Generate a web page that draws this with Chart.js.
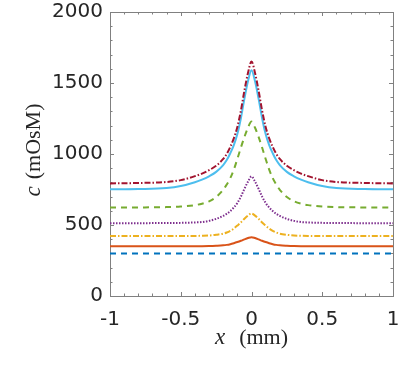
<!DOCTYPE html>
<html><head><meta charset="utf-8">
<script src="https://cdn.jsdelivr.net/npm/chart.js@4"></script>
<style>html,body{margin:0;padding:0;background:#fff}#wrap{width:407px;height:370px}</style>
</head><body><div id="wrap"><canvas id="c" width="407" height="370"></canvas></div>
<script>
const xs = [-1,-0.8,-0.6,-0.5,-0.4,-0.35,-0.3,-0.25,-0.2,-0.175,-0.15,-0.125,-0.1,-0.075,-0.05,-0.025,0,0.025,0.05,0.075,0.1,0.125,0.15,0.175,0.2,0.25,0.3,0.35,0.4,0.5,0.6,0.8,1];
const s1 = [300,300,300,300,300,300,300,300,300,300,300,300,300,300,300,300,300,300,300,300,300,300,300,300,300,300,300,300,300,300,300,300,300];
const s2 = [351,351,351,351,351,351,352,354,357,360,365,372,380,389,399,408,414,408,399,389,380,372,365,360,357,354,352,351,351,351,351,351,351];
const s3 = [422,422,422,422,423,424,426,431,439,447,459,475,496,518,544,566,582,566,544,518,496,475,459,447,439,431,426,424,423,422,422,422,422];
const s4 = [513,513,514,515,518,521,529,543,564,579,598,623,655,700,755,805,842,805,755,700,655,623,598,579,564,543,529,521,518,515,514,513,513];
const s5 = [624,624,626,630,640,650,667,697,748,785,830,890,965,1045,1120,1185,1228,1185,1120,1045,965,890,830,785,748,697,667,650,640,630,626,624,624];
const s6 = [751,753,760,774,801,819,843,874,922,957,1005,1062,1140,1252,1390,1512,1590,1512,1390,1252,1140,1062,1005,957,922,874,843,819,801,774,760,753,751];
const s7 = [793,796,803,816,844,862,886,917,965,1001,1050,1110,1190,1305,1447,1570,1652,1570,1447,1305,1190,1110,1050,1001,965,917,886,862,844,816,803,796,793];
const xTicks = [-1,-0.5,0,0.5,1];
const yTicks = [0,500,1000,1500,2000];

const series = [s1,s2,s3,s4,s5,s6,s7];
const colors = ['#0072BD','#D95319','#EDB120','#7E2F8E','#77AC30','#4DBEEE','#A2142F'];
const dashes = [[6,5],[],[6,2,1.5,2],[1.5,1.5],[6,5],[],[6,2,1.5,2]];

const datasets = series.map((s,i)=>({
  data: xs.map((x,j)=>({x:x,y:s[j]})),
  borderColor: colors[i], borderWidth: 2, borderDash: dashes[i],
  pointRadius: 0, fill:false, cubicInterpolationMode:'monotone',
  order: 7-i
}));

const boxPlugin = {
  id:'box',
  beforeDatasetsDraw(chart){
    const {ctx, chartArea:a, scales:{x,y}} = chart;
    ctx.save();
    ctx.strokeStyle='#808080'; ctx.lineWidth=1;
    ctx.beginPath();
    for(let k=-10; k<=10; k++){
      const v=k/10;
      const px=Math.round(x.getPixelForValue(v))+0.5;
      const L = (k%5===0)?4:2.5;
      ctx.moveTo(px,a.bottom); ctx.lineTo(px,a.bottom-L);
      ctx.moveTo(px,a.top); ctx.lineTo(px,a.top+L);
    }
    for(let v=0; v<=2000; v+=100){
      const py=Math.round(y.getPixelForValue(v))+0.5;
      const L = (v%500===0)?4:2.5;
      ctx.moveTo(a.left,py); ctx.lineTo(a.left+L,py);
      ctx.moveTo(a.right,py); ctx.lineTo(a.right-L,py);
    }
    ctx.stroke();
    ctx.strokeRect(Math.round(a.left)+0.5, Math.round(a.top)+0.5, Math.round(a.right-a.left), Math.round(a.bottom-a.top));
    ctx.restore();
  },
  afterDraw(chart){
    const {ctx, chartArea:a} = chart;
    ctx.save();
    ctx.fillStyle='#262626';
    ctx.textBaseline='alphabetic';
    ctx.textAlign='left';
    const f1='italic 23px "Liberation Serif"', f2='22px "Liberation Serif"';
    ctx.font=f1; const w1=ctx.measureText('x').width;
    ctx.font=f2; const w2=ctx.measureText('(mm)').width;
    const gap=14;
    let cx=(a.left+a.right)/2 - (w1+gap+w2)/2;
    ctx.font=f1; ctx.fillText('x',cx,344);
    ctx.font=f2; ctx.fillText('(mm)',cx+w1+gap,344);
    ctx.translate(40,150);
    ctx.rotate(-Math.PI/2);
    ctx.font=f1; const w3=ctx.measureText('c').width;
    ctx.font=f2; const w4=ctx.measureText('(mOsM)').width;
    const gap2=7;
    let cy=-(w3+gap2+w4)/2;
    ctx.font=f1; ctx.fillText('c',cy,0);
    ctx.font=f2; ctx.fillText('(mOsM)',cy+w3+gap2,0);
    ctx.restore();
  }
};

new Chart(document.getElementById('c'),{
  type:'line',
  data:{datasets},
  options:{
    responsive:false, animation:false, devicePixelRatio:1,
    layout:{padding:{top:12,right:14,left:0,bottom:0}},
    plugins:{legend:{display:false},tooltip:{enabled:false}},
    scales:{
      x:{type:'linear',min:-1,max:1,
        afterBuildTicks(s){ s.ticks = xTicks.map(v=>({value:v})); },
        afterFit(s){ s.height=74; s.paddingLeft=0; s.paddingRight=0; },
        grid:{display:false,drawTicks:false,tickLength:0}, border:{display:false},
        ticks:{color:'#262626',font:{family:'"DejaVu Sans"',size:20},padding:12,maxRotation:0,autoSkip:false,
          callback:v=>String(v)}
      },
      y:{type:'linear',min:0,max:2000,
        afterBuildTicks(s){ s.ticks = yTicks.map(v=>({value:v})); },
        afterFit(s){ s.width=110; s.paddingTop=0; s.paddingBottom=0; },
        grid:{display:false,drawTicks:false,tickLength:0}, border:{display:false},
        ticks:{color:'#262626',font:{family:'"DejaVu Sans"',size:20},padding:7,
          callback:v=>String(v)}
      }
    }
  },
  plugins:[boxPlugin]
});
</script></body></html>
